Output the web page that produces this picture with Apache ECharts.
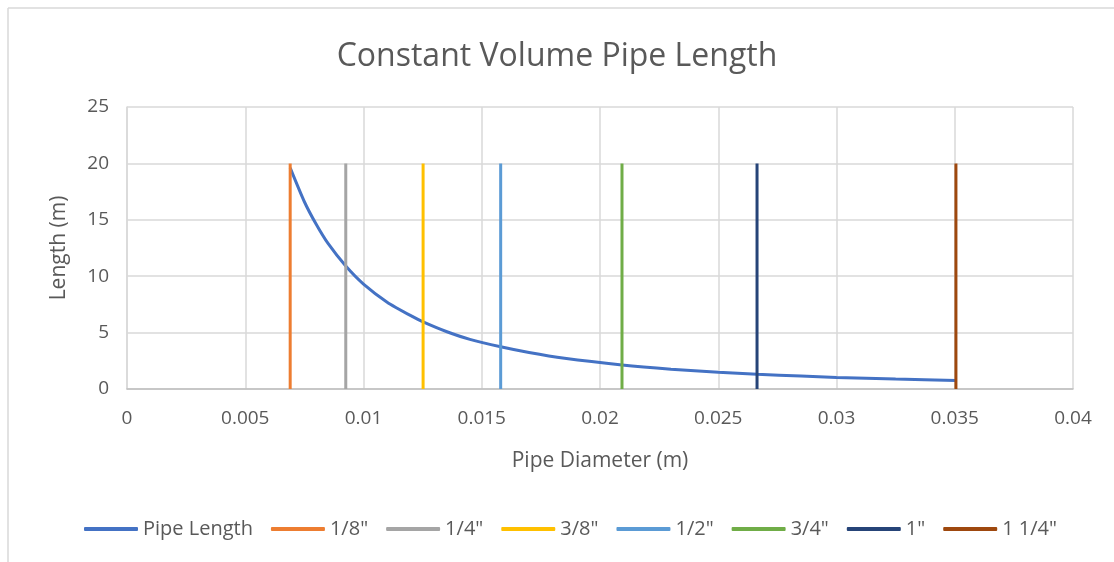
<!DOCTYPE html>
<html><head><meta charset="utf-8">
<script src="https://cdn.jsdelivr.net/npm/echarts@6/dist/echarts.min.js"></script>
<style>html,body{margin:0;padding:0;background:#fff}#c{width:1114px;height:562px}</style>
</head><body><div id="c"></div>
<script>
// Pipe length curve (diameter m, length m)
const curveX = [0.0069, 0.0075, 0.008, 0.0085, 0.00925, 0.010, 0.011, 0.012, 0.01252, 0.0135, 0.0145, 0.0158, 0.017, 0.0185, 0.02093, 0.023, 0.025, 0.02664, 0.0285, 0.030, 0.0325, 0.03505];
const curveY = [19.6, 16.6, 14.6, 12.9, 10.9, 9.3, 7.7, 6.5, 5.95, 5.1, 4.4, 3.74, 3.23, 2.72, 2.13, 1.76, 1.49, 1.31, 1.15, 1.03, 0.88, 0.76];
// Nominal pipe sizes and their inner diameters (m)
const sizeNames = ['1/8"', '1/4"', '3/8"', '1/2"', '3/4"', '1"', '1 1/4"'];
const sizeDiam = [0.0069, 0.00925, 0.01252, 0.0158, 0.02093, 0.02664, 0.03505];
const lineTop = [20, 20, 20, 20, 20, 20, 20];
const sizeColors = ['#ED7D31', '#A5A5A5', '#FFC000', '#5B9BD5', '#70AD47', '#264478', '#9E480E'];

const font = 'Open Sans, Noto Sans, sans-serif';
const series = [{
  name: 'Pipe Length', type: 'line', smooth: 0.2, showSymbol: false,
  data: curveX.map((x, i) => [x, curveY[i]]),
  lineStyle: { color: '#4472C4', width: 3 }, itemStyle: { color: '#4472C4' }, z: 2
}];
sizeNames.forEach((n, i) => {
  series.push({
    name: n, type: 'line', showSymbol: false,
    data: [[sizeDiam[i], 0], [sizeDiam[i], lineTop[i]]],
    lineStyle: { color: sizeColors[i], width: 3 }, itemStyle: { color: sizeColors[i] }, z: 3
  });
});

const chart = echarts.init(document.getElementById('c'));
chart.setOption({
  animation: false,
  backgroundColor: '#fff',
  title: { text: 'Constant Volume Pipe Length', left: 'center', top: 36,
    textStyle: { fontFamily: font, fontSize: 32, fontWeight: 'normal', color: '#595959' } },
  grid: { left: 127, right: 41, top: 107, bottom: 173 },
  xAxis: { type: 'value', min: 0, max: 0.04, interval: 0.005,
    name: 'Pipe Diameter (m)', nameLocation: 'middle', nameGap: 62,
    nameTextStyle: { fontFamily: font, fontSize: 21, color: '#595959' },
    axisLine: { lineStyle: { color: '#BFBFBF', width: 1.5 } }, axisTick: { show: false },
    axisLabel: { fontFamily: font, fontSize: 19, color: '#595959', margin: 20,
      formatter: v => String(+v.toFixed(3)) },
    splitLine: { lineStyle: { color: '#D9D9D9', width: 1.5 } } },
  yAxis: { type: 'value', min: 0, max: 25, interval: 5,
    name: 'Length (m)', nameLocation: 'middle', nameGap: 57, nameRotate: 90,
    nameTextStyle: { fontFamily: font, fontSize: 21, color: '#595959' },
    axisLine: { show: true, lineStyle: { color: '#D9D9D9', width: 1.5 } }, axisTick: { show: false },
    axisLabel: { fontFamily: font, fontSize: 19, color: '#595959', margin: 18 },
    splitLine: { lineStyle: { color: '#D9D9D9', width: 1.5 } } },
  legend: { bottom: 18, left: 79, icon: 'roundRect', itemWidth: 54, itemHeight: 4, itemGap: 18,
    textStyle: { fontFamily: font, fontSize: 20, color: '#595959' },
    data: ['Pipe Length'].concat(sizeNames) },
  graphic: [
    { type: 'line', shape: { x1: 8, y1: 8, x2: 1114, y2: 8 }, style: { stroke: '#D9D9D9', lineWidth: 1.5 } },
    { type: 'line', shape: { x1: 8, y1: 8, x2: 8, y2: 562 }, style: { stroke: '#D9D9D9', lineWidth: 1.5 } }
  ],
  series: series
});
</script></body></html>
